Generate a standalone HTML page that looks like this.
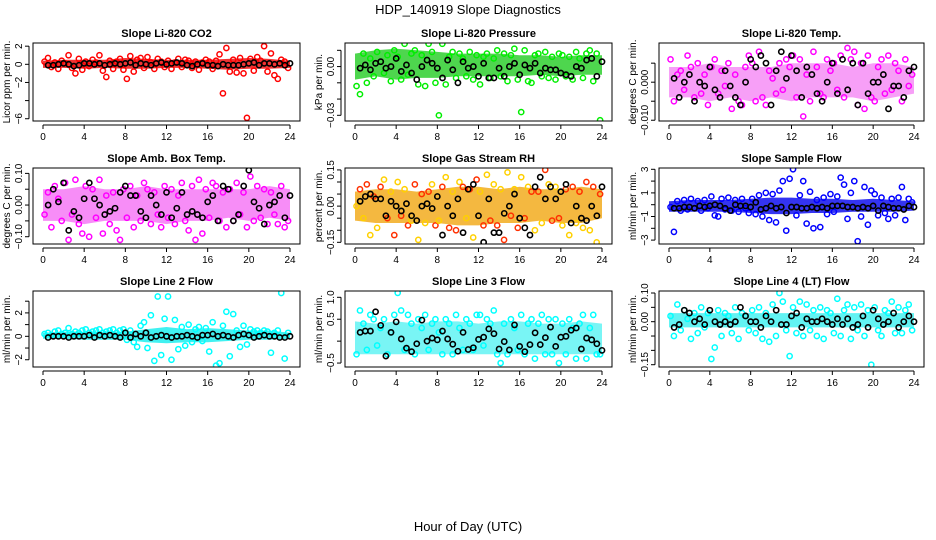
<!DOCTYPE html>
<html><head><meta charset="utf-8">
<style>
html,body{margin:0;padding:0;background:#fff;}
svg{display:block;font-family:"Liberation Sans",sans-serif;}
</style></head>
<body>
<svg id="chart" width="936" height="540" viewBox="0 0 936 540" xmlns="http://www.w3.org/2000/svg">
<text x="468" y="14" text-anchor="middle" font-size="13">HDP_140919  Slope Diagnostics</text>
<text x="468" y="531" text-anchor="middle" font-size="13">Hour of Day (UTC)</text>
</svg>
<script>
const hourTicks = [0,4,8,12,16,20,24];

const co2Pts = [0.3,0.7,-0.3,0.2,-0.5,0.4,0.1,1.0,-0.4,-1.0,0.6,-0.6, 0.3,-0.2,0.5,0.2,1.0,-0.7,-1.4,0.4,-0.5,0.3,0.6,-0.6, -1.6,0.9,-0.8,0.5,0.7,-0.4,0.8,0.2,-0.5,0.6,0.3,-0.3, 0.4,-0.5,0.2,0.6,-0.3,0.5,0.4,-0.4,0.3,-0.6,0.2,0.5, 0.3,-0.5,0.4,1.1,-3.2,1.8,-0.8,0.5,-0.9,0.7,-1.0,-5.9, 0.6,-0.7,0.8,0.4,2.0,-0.8,1.2,-1.2,-1.6,0.5,0.3,-0.4];
const co2Black = [-0.1,-0.1,0.0,0.1,0.0,-0.2,-0.1,0.1,0.1,0.0,0.1,-0.1, 0.0,0.1,0.0,0.1,0.2,-0.1,0.1,0.0,-0.1,0.1,0.2,0.0, 0.1,0.2,0.1,-0.1,-0.2,0.0,0.1,-0.1,-0.1,-0.2,0.0,-0.1, -0.1,-0.1,0.0,0.1,0.2,-0.1,0.1,0.1,0.0,0.1,-0.1,0.1];
const co2Lo = [-0.4,-0.4,-0.5,-0.4,-0.5,-0.5,-0.4,-0.4,-0.5,-0.6,-0.5,-0.5,-0.4];
const co2Hi = [0.4,0.5,0.5,0.5,0.7,0.6,0.5,0.5,0.5,0.6,0.7,0.6,0.4];
const co2Ticks = [-6,-4,-2,0,2];
const co2Labels = ['-6','','-2','0','2'];

const pressPts = [-0.012,-0.017,0.008,-0.010,0.005,-0.006,0.009,0.003,-0.004,0.007,-0.009,0.010, 0.006,-0.008,0.014,-0.005,0.008,0.010,-0.011,0.007,-0.012,0.014,0.009,-0.010, -0.030,0.014,-0.011,0.006,0.009,-0.007,0.008,0.005,-0.006,0.009,-0.008,0.007, -0.011,0.006,0.008,-0.007,0.005,0.010,-0.006,0.008,-0.009,0.007,0.011,-0.008, -0.028,0.010,-0.009,-0.010,0.007,0.008,-0.006,0.009,-0.007,0.006,-0.008,0.008, 0.007,-0.006,0.006,-0.008,0.009,0.005,-0.007,0.008,0.010,-0.009,0.008,-0.033];
const pressBlack = [-0.001,0.001,-0.002,0.002,0.003,-0.001,0.000,0.005,-0.003,0.001,-0.004,-0.008, 0.000,0.004,0.002,-0.001,-0.007,0.004,-0.002,-0.010,0.003,-0.001,0.000,-0.006, 0.002,-0.007,-0.007,-0.001,-0.006,0.000,0.002,-0.005,0.001,-0.001,0.002,-0.004, -0.001,-0.002,-0.002,-0.004,-0.005,-0.006,0.000,-0.001,0.004,0.005,-0.006,0.003];
const pressLo = [-0.008,-0.006,-0.008,-0.007,-0.007,-0.006,-0.006,-0.006,-0.006,-0.005,-0.006,-0.005,-0.005];
const pressHi = [0.008,0.010,0.011,0.010,0.009,0.008,0.008,0.008,0.007,0.007,0.006,0.007,0.007];
const pressTicks = [-0.03,-0.02,-0.01,0,0.01];
const pressLabels = ['-0.03','','','0.00',''];

const tempPts = [0.006,-0.005,0.002,0.003,-0.002,0.007,0.004,-0.004,0.005,-0.003,0.002,-0.006, 0.004,0.006,-0.003,0.003,-0.001,0.005,-0.007,0.002,-0.005,-0.006,0.004,0.007, 0.005,-0.005,0.008,-0.004,-0.006,0.003,0.001,-0.003,0.005,-0.002,0.006,0.004, 0.007,-0.004,0.006,-0.009,0.002,-0.005,0.008,0.004,-0.003,-0.004,0.006,0.003, 0.005,-0.002,0.007,-0.004,0.009,0.006,0.008,-0.006,0.005,-0.007,0.007,-0.004, -0.005,0.004,0.006,-0.003,0.007,-0.002,0.005,0.003,-0.005,0.006,-0.001,0.002];
const tempBlack = [0.001,-0.004,0.000,0.002,-0.005,0.000,-0.001,0.004,-0.002,-0.004,0.003,-0.001, -0.004,-0.006,0.000,0.006,0.004,0.007,0.005,-0.006,0.003,0.008,0.001,0.007, 0.003,-0.004,0.004,0.002,-0.003,-0.005,0.000,0.005,-0.003,0.006,-0.002,0.005, -0.006,0.005,-0.003,0.000,0.000,0.002,-0.007,-0.001,-0.001,-0.004,0.003,0.004];
const tempLo = [-0.004,-0.004,-0.005,-0.004,-0.005,-0.004,-0.005,-0.004,-0.004,-0.004,-0.005,-0.004,-0.003];
const tempHi = [0.004,0.004,0.005,0.004,0.004,0.004,0.005,0.005,0.005,0.004,0.005,0.005,0.004];
const tempTicks = [-0.010,-0.005,0,0.005];
const tempLabels = ['-0.010','','0.000',''];

const ambPts = [-0.03,0.04,-0.07,0.06,0.02,-0.05,0.07,-0.11,-0.03,0.08,-0.06,-0.09, 0.06,-0.10,0.05,-0.04,0.08,-0.09,0.03,-0.06,0.04,-0.08,-0.11,0.05, -0.04,0.06,-0.07,0.03,-0.05,0.07,0.05,-0.06,0.04,-0.03,-0.07,0.06, -0.04,0.05,-0.06,0.03,0.07,-0.05,-0.08,0.06,-0.11,0.08,-0.09,0.05, -0.04,0.07,0.06,-0.05,0.04,-0.07,0.05,-0.05,0.07,-0.03,0.04,-0.07, 0.09,-0.05,0.06,-0.04,0.05,-0.06,0.04,-0.03,-0.06,0.06,-0.07,-0.05];
const ambBlack = [0.00,0.05,0.01,0.07,-0.08,-0.02,-0.04,0.02,0.07,0.02,0.00,-0.03, -0.02,-0.01,0.04,0.06,0.03,0.03,-0.02,-0.04,0.03,0.00,-0.03,0.04, -0.04,-0.01,0.04,-0.03,-0.02,-0.03,-0.04,0.01,0.03,-0.05,0.06,0.05,-0.05,-0.03, 0.06,0.11,0.01,-0.01,-0.06,0.00,0.01,0.03,-0.04,0.03];
const ambLo = [-0.05,-0.05,-0.06,-0.05,-0.05,-0.05,-0.06,-0.05,-0.05,-0.04,-0.05,-0.04,-0.05];
const ambHi = [0.05,0.05,0.06,0.05,0.05,0.06,0.05,0.05,0.05,0.05,0.05,0.06,0.05];
const ambTicks = [-0.10,-0.05,0,0.05,0.10];
const ambLabels = ['-0.10','','0.00','','0.10'];

const rhPts = [0.00,0.07,-0.05,0.09,-0.12,0.04,-0.09,0.08,0.11,-0.05,0.06,-0.12, 0.10,-0.04,0.07,-0.08,-0.06,0.09,-0.14,0.05,-0.07,0.06,0.09,-0.08, -0.06,0.08,0.12,-0.09,0.06,-0.10,0.10,0.08,-0.05,0.07,-0.13,0.11, 0.06,-0.08,0.13,-0.06,0.09,-0.08,0.07,-0.14,0.14,-0.04,0.07,-0.09, 0.12,-0.05,0.08,0.06,-0.10,0.06,-0.07,0.15,0.09,-0.06,0.08,-0.05, -0.08,0.07,-0.12,0.08,-0.07,0.06,-0.09,0.10,-0.10,0.08,-0.15,0.05];
const rhBlack = [0.02,0.04,0.05,0.03,0.03,-0.04,0.02,0.00,-0.02,0.01,-0.04,-0.06, 0.00,0.01,-0.01,0.04,-0.12,0.00,-0.04,0.03,-0.11,0.07,0.09,-0.04, -0.15,0.03,-0.11,-0.11,-0.03,0.00,0.05,-0.05,-0.09,-0.12,0.08,0.12,0.03,0.08, 0.03,0.06,0.09,-0.07,0.00,-0.05,-0.06,0.00,-0.04,0.08];
const rhLo = [-0.06,-0.07,-0.07,-0.07,-0.07,-0.08,-0.08,-0.07,-0.07,-0.06,-0.07,-0.07,-0.05];
const rhHi = [0.06,0.07,0.07,0.06,0.07,0.08,0.08,0.07,0.08,0.07,0.07,0.08,0.07];
const rhTicks = [-0.15,-0.10,-0.05,0,0.05,0.10,0.15];
const rhLabels = ['-0.15','','','0.00','','','0.15'];

const flowPts = [-0.2,-2.3,0.3,-0.5,0.4,-0.4,0.5,-0.3,0.3,-0.5,0.4,-0.3, 0.7,-0.9,-1.0,0.5,-0.4,0.6,-0.5,0.4,-0.6,0.5,-0.3,-0.7, 0.5,-0.8,0.8,-1.0,1.0,-1.3,0.9,-1.5,1.2,2.0,-2.2,2.2, 3.0,-0.9,0.8,2.0,-1.6,1.1,-2.0,0.4,-1.9,0.6,-0.8,0.9, -0.6,0.7,2.3,1.7,-1.2,1.0,2.0,-3.1,-1.0,1.5,-1.7,1.2, 0.9,-0.9,0.6,-0.7,-1.2,0.5,-0.9,0.6,1.5,-1.3,0.5,0.2];
const flowBlack = [-0.3,-0.3,-0.2,-0.2,-0.3,-0.1,-0.2,-0.1,0.0,-0.1,-0.3,-0.5, 0.0,-0.1,-0.1,-0.2,0.2,-0.4,-0.3,-0.1,-0.3,-0.2,-0.7,-0.2, -0.2,-0.3,-0.3,-0.2,-0.3,-0.2,-0.3,-0.1,-0.1,-0.1,-0.2,-0.2,-0.3,-0.2, -0.3,-0.1,-0.5,-0.1,-0.2,-0.3,-0.3,-0.4,-0.1,-0.2];
const flowLo = [-0.6,-0.6,-0.6,-0.6,-0.7,-0.8,-0.8,-0.7,-0.7,-0.6,-0.6,-0.6,-0.5];
const flowHi = [0.3,0.4,0.4,0.4,0.5,0.6,0.6,0.5,0.5,0.4,0.5,0.4,0.3];
const flowTicks = [-3,-2,-1,0,1,2,3];
const flowLabels = ['-3','','-1','','1','','3'];

const line2Pts = [0.2,0.3,0.1,0.4,0.5,0.2,0.3,0.7,0.2,0.4,0.3,0.5, 0.6,0.3,0.4,0.5,0.6,0.3,0.4,0.5,0.6,0.3,0.5,0.6, -0.3,0.5,-0.5,-0.9,0.9,1.2,-1.0,1.8,-2.1,3.4,-1.6,1.5, 3.4,-2.0,1.4,-1.1,0.8,-0.8,1.0,-0.5,0.6,0.8,-0.4,0.7, -1.3,1.2,-2.5,-2.3,0.9,2.1,-1.7,1.9,0.5,-0.9,0.9,-0.7, 0.6,0.4,0.5,0.3,0.5,0.4,-1.4,0.3,0.5,3.7,-1.9,0.3];
const line2Black = [-0.1,0.0,0.0,0.0,-0.1,0.0,0.0,0.0,0.1,-0.1,0.1,0.0, 0.1,0.0,-0.1,0.3,-0.1,0.2,0.0,0.3,-0.1,0.0,0.1,0.0, -0.1,0.0,0.0,0.1,0.0,-0.1,0.1,0.1,0.2,0.0,0.1,0.0,-0.1,0.1, 0.2,0.1,-0.1,0.0,0.1,0.0,0.0,-0.1,-0.1,0.0];
const line2Lo = [-0.2,-0.2,-0.3,-0.3,-0.3,-0.5,-0.6,-0.5,-0.5,-0.4,-0.3,-0.3,-0.2];
const line2Hi = [0.3,0.4,0.4,0.4,0.4,0.6,0.8,0.6,0.7,0.6,0.5,0.5,0.3];
const line2Ticks = [-2,-1,0,1,2,3];
const line2Labels = ['-2','','0','','2',''];

const line3Pts = [-0.3,0.7,0.4,-0.2,0.6,0.5,-0.1,0.3,0.5,-0.3,0.2,0.6, 1.1,0.7,-0.2,0.6,0.4,-0.3,0.5,0.3,0.6,-0.2,0.4,0.5, 0.2,-0.3,0.5,0.4,-0.3,0.6,0.3,-0.2,0.5,0.4,-0.2,0.6, 0.6,-0.1,0.5,0.4,0.7,-0.3,-0.5,0.4,-0.3,0.5,0.3,-0.2, 0.6,-0.3,0.4,0.5,-0.4,0.4,0.6,-0.3,0.5,-0.3,0.5,-0.5, 0.4,-0.3,0.5,0.3,-0.4,0.4,0.6,-0.4,0.3,0.6,-0.3,-0.3];
const line3Black = [0.2,0.23,0.23,0.67,0.36,-0.34,0.2,0.44,0.05,-0.16,-0.24,-0.06, 0.48,0.0,0.07,0.03,0.23,0.05,-0.07,-0.23,0.2,-0.19,-0.15,0.04, 0.09,0.28,0.17,-0.18,-0.01,-0.2,0.37,-0.12,-0.24,-0.08,0.19,-0.08,0.08,0.32, -0.12,0.09,0.11,0.25,0.3,-0.18,0.07,0.03,-0.06,-0.21];
const line3Lo = [-0.3,-0.3,-0.3,-0.3,-0.3,-0.3,-0.3,-0.3,-0.3,-0.3,-0.3,-0.3,-0.3];
const line3Hi = [0.45,0.4,0.45,0.4,0.45,0.45,0.4,0.45,0.45,0.4,0.4,0.45,0.4];
const line3Ticks = [-0.5,0,0.5,1.0];
const line3Labels = ['-0.5','','0.5','1.0'];

const line4Pts = [0.02,-0.05,0.06,-0.03,0.04,0.01,-0.06,0.03,-0.04,0.05,-0.02,0.03, -0.13,-0.09,0.04,-0.05,0.03,0.02,-0.04,0.05,-0.06,0.03,0.02,-0.03, 0.04,-0.04,0.05,-0.06,0.03,-0.07,0.06,-0.05,0.10,0.07,-0.03,-0.12, 0.05,-0.04,0.07,-0.05,0.06,-0.03,0.04,-0.05,0.05,-0.06,0.04,0.03, -0.04,0.08,-0.05,0.04,0.06,-0.06,0.05,-0.03,0.06,-0.05,0.04,-0.15, 0.05,-0.03,-0.05,0.04,0.03,0.07,-0.04,0.05,-0.04,0.04,0.06,-0.03];
const line4Black = [-0.02,-0.01,0.04,0.03,0.00,0.01,-0.01,0.04,0.00,-0.01,0.00,-0.01, 0.00,0.05,0.02,0.00,0.00,-0.02,0.02,0.00,0.04,-0.01,-0.01,0.02, 0.03,-0.02,0.01,0.00,0.00,0.01,0.00,-0.01,0.01,-0.01,0.01,-0.02,-0.01, 0.02,-0.02,0.04,0.01,-0.01,0.00,0.03,-0.02,0.00,0.02,0.00];
const line4Lo = [-0.02,-0.02,-0.02,-0.02,-0.02,-0.02,-0.02,-0.02,-0.02,-0.02,-0.02,-0.02,-0.02];
const line4Hi = [0.03,0.03,0.03,0.03,0.03,0.03,0.03,0.03,0.03,0.03,0.03,0.03,0.03];
const line4Ticks = [-0.15,-0.10,-0.05,0,0.05,0.10];
const line4Labels = ['-0.15','','','0.00','','0.10'];

const svg = document.getElementById('chart');
const NS = 'http://www.w3.org/2000/svg';
function mk(tag, attrs, parent){
  const e = document.createElementNS(NS, tag);
  for (const k in attrs) e.setAttribute(k, attrs[k]);
  (parent||svg).appendChild(e);
  return e;
}
const colX = [[33,300],[345,612],[659,924]];
const rowY = [[43,121],[168,244],[291,367]];
const panels = [
 {key:'co2',title:'Slope Li-820 CO2',ylab:'Licor ppm per min.',col:0,row:0,y0:-6.25,y1:2.35,pts:co2Pts,blk:co2Black,lo:co2Lo,hi:co2Hi,ticks:co2Ticks,labels:co2Labels,c:'#ff0000',c2:'#ff0000',band:'#ee1010',op:0.85},
 {key:'pressure',title:'Slope Li-820 Pressure',ylab:'kPa per min.',col:1,row:0,y0:-0.0335,y1:0.0145,pts:pressPts,blk:pressBlack,lo:pressLo,hi:pressHi,ticks:pressTicks,labels:pressLabels,c:'#00ee00',c2:'#00ee00',band:'#22cc22',op:0.8},
 {key:'temp',title:'Slope Li-820 Temp.',ylab:'degrees C per min.',col:2,row:0,y0:-0.0102,y1:0.0103,pts:tempPts,blk:tempBlack,lo:tempLo,hi:tempHi,ticks:tempTicks,labels:tempLabels,c:'#ff00ff',c2:'#ff00ff',band:'#f040f0',op:0.5},
 {key:'ambbox',title:'Slope Amb. Box Temp.',ylab:'degrees C per min.',col:0,row:1,y0:-0.123,y1:0.117,pts:ambPts,blk:ambBlack,lo:ambLo,hi:ambHi,ticks:ambTicks,labels:ambLabels,c:'#ff00ff',c2:'#ff00ff',band:'#f030f0',op:0.55},
 {key:'rh',title:'Slope Gas Stream RH',ylab:'percent per min.',col:1,row:1,y0:-0.157,y1:0.158,pts:rhPts,blk:rhBlack,lo:rhLo,hi:rhHi,ticks:rhTicks,labels:rhLabels,c:'#ffd000',c2:'#ff3000',band:'#f0a000',op:0.75},
 {key:'sampleflow',title:'Slope Sample Flow',ylab:'ml/min per min.',col:2,row:1,y0:-3.33,y1:3.11,pts:flowPts,blk:flowBlack,lo:flowLo,hi:flowHi,ticks:flowTicks,labels:flowLabels,c:'#0000ff',c2:'#0000ff',band:'#1010ee',op:0.85},
 {key:'line2',title:'Slope Line 2 Flow',ylab:'ml/min per min.',col:0,row:2,y0:-2.62,y1:3.87,pts:line2Pts,blk:line2Black,lo:line2Lo,hi:line2Hi,ticks:line2Ticks,labels:line2Labels,c:'#00ffff',c2:'#00ffff',band:'#20eeee',op:0.85},
 {key:'line3',title:'Slope Line 3 Flow',ylab:'ml/min per min.',col:1,row:2,y0:-0.59,y1:1.144,pts:line3Pts,blk:line3Black,lo:line3Lo,hi:line3Hi,ticks:line3Ticks,labels:line3Labels,c:'#00ffff',c2:'#00ffff',band:'#20eeee',op:0.6},
 {key:'line4',title:'Slope Line 4 (LT) Flow',ylab:'ml/min per min.',col:2,row:2,y0:-0.158,y1:0.107,pts:line4Pts,blk:line4Black,lo:line4Lo,hi:line4Hi,ticks:line4Ticks,labels:line4Labels,c:'#00ffff',c2:'#00ffff',band:'#20eeee',op:0.7}
];
panels.forEach(p=>{
  const [L,R] = colX[p.col], [T,B] = rowY[p.row];
  const xs = h => (L+10) + h/24*((R-10)-(L+10));
  const ys = v => B - (v-p.y0)/(p.y1-p.y0)*(B-T);
  const g = mk('g',{});
  
  
  const title = mk('text',{x:(L+R)/2,y:T-6,'text-anchor':'middle','font-size':'11','font-weight':'bold'},g);
  title.textContent = p.title;
  
  
  const clip = mk('clipPath',{id:'clip-'+p.key},g);
  mk('rect',{x:L,y:T,width:R-L,height:B-T},clip);
  const plot = mk('g',{'clip-path':'url(#clip-'+p.key+')'},g);
  let d = '';
  p.hi.forEach((v,i)=>{ d += (i?'L':'M')+xs(i*2).toFixed(1)+','+ys(v).toFixed(1); });
  for (let i=p.lo.length-1;i>=0;i--) d += 'L'+xs(i*2).toFixed(1)+','+ys(p.lo[i]).toFixed(1);
  const band = mk('path',{d:d+'Z',fill:p.band,opacity:p.op},plot);
  
  
  p.pts.forEach((v,i)=>{
    const c = mk('circle',{cx:xs(i/3+0.15),cy:ys(v),r:2.6,fill:'none',stroke:(i%2?p.c2:p.c),'stroke-width':1.5},plot);
    
    
  });
  p.blk.forEach((v,i)=>{
    const c = mk('circle',{cx:xs((i+1)*0.5),cy:ys(v),r:2.6,fill:'none',stroke:'#000','stroke-width':1.6},plot);
    
    
  });
  const box = mk('rect',{x:L,y:T,width:R-L,height:B-T,fill:'none',stroke:'#000','stroke-width':1},g);
  
  
  const xa = mk('g',{},g);
  
  
  mk('line',{x1:xs(0),x2:xs(24),y1:B+4,y2:B+4,stroke:'#000'},xa);
  hourTicks.forEach(h=>{
    mk('line',{x1:xs(h),x2:xs(h),y1:B+4,y2:B+8,stroke:'#000'},xa);
    const t = mk('text',{x:xs(h),y:B+19,'text-anchor':'middle','font-size':'10'},xa);
    t.textContent = h;
  });
  const ya = mk('g',{},g);
  
  
  const ax = L-4;
  mk('line',{x1:ax,x2:ax,y1:ys(p.ticks[0]),y2:ys(p.ticks[p.ticks.length-1]),stroke:'#000'},ya);
  p.ticks.forEach((v,i)=>{
    mk('line',{x1:ax-4,x2:ax,y1:ys(v),y2:ys(v),stroke:'#000'},ya);
    if (p.labels[i]) {
      const t = mk('text',{x:0,y:0,'text-anchor':'middle','font-size':'10',transform:'translate('+(ax-7)+','+ys(v)+') rotate(-90)'},ya);
      t.textContent = p.labels[i].replace('-','\u2212');
    }
  });
  const yl = mk('text',{x:0,y:0,'text-anchor':'middle','font-size':'10',transform:'translate('+(L-23)+','+((T+B)/2)+') rotate(-90)'},g);
  yl.textContent = p.ylab;
  
  
});
</script>
</body></html>
